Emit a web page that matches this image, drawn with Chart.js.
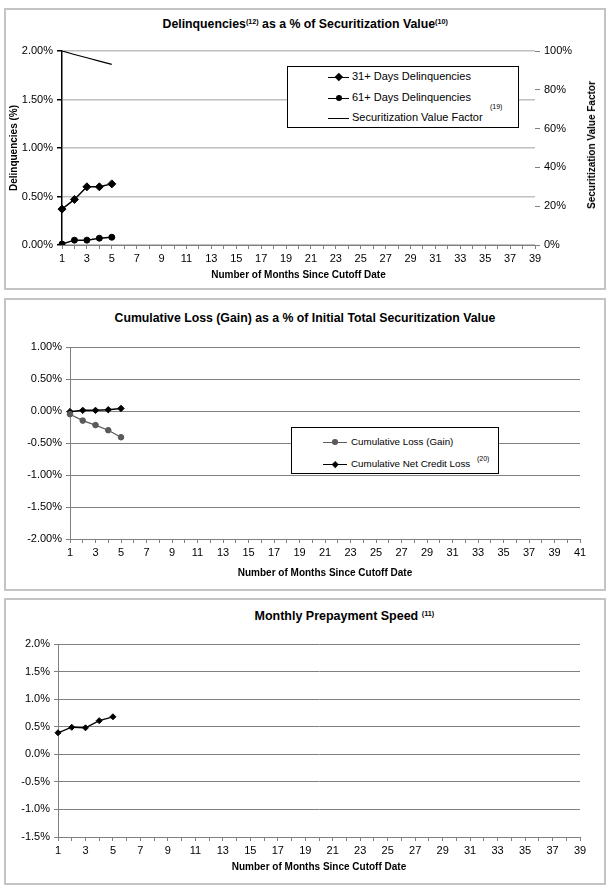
<!DOCTYPE html>
<html>
<head>
<meta charset="utf-8">
<script src="https://cdn.jsdelivr.net/npm/chart.js@4.4.1/dist/chart.umd.min.js"></script>
<style>
  body { margin: 0; background: #fff; width: 611px; height: 889px; position: relative; overflow: hidden;
         font-family: "Liberation Sans", Arial, sans-serif; color: #000; }
  .panel { position: absolute; left: 4px; width: 602px; box-sizing: border-box; border: 2px solid #c4c4c4; }
  .plot { position: absolute; left: 4px; }
  .title { position: absolute; width: 602px; text-align: center; font-weight: bold; font-size: 12px; line-height: 14px; white-space: nowrap; }
  .title span { display: inline-block; transform-origin: center; }
  .title sup { font-size: 7px; vertical-align: 4px; line-height: 0; }
  .vtitle { position: absolute; font-weight: bold; font-size: 10px; line-height: 12px; white-space: nowrap;
            transform: translate(-50%, -50%) rotate(-90deg); }
  .legend { position: absolute; border: 1px solid #000; background: #fff; box-sizing: border-box; }
  .entry { position: absolute; white-space: nowrap; }
  .swatch { position: absolute; height: 0; }
  .mark { position: absolute; }
  .note { position: absolute; font-size: 7px; white-space: nowrap; }
</style>
</head>
<body>

<div class="panel" style="top:8px;height:282px"></div>
<div class="panel" style="top:298px;height:293px"></div>
<div class="panel" style="top:598px;height:287px"></div>

<div class="title" id="t1" style="left:4px;top:17px"><span>Delinquencies<sup>(12)</sup> as a % of Securitization Value<sup>(10)</sup></span></div>
<div class="title" id="t2" style="left:4px;top:311px"><span>Cumulative Loss (Gain) as a % of Initial Total Securitization Value</span></div>
<div class="title" id="t3" style="left:43px;top:609px"><span>Monthly Prepayment Speed <sup>(11)</sup></span></div>

<canvas id="c1" class="plot" width="602" height="282" style="top:8px"></canvas>
<canvas id="c2" class="plot" width="602" height="293" style="top:298px"></canvas>
<canvas id="c3" class="plot" width="602" height="287" style="top:598px"></canvas>

<div class="vtitle" style="left:592px;top:145px">Securitization Value Factor</div>

<div class="legend" id="lg1" style="left:287px;top:66px;width:232px;height:62px"></div>
<div class="legend" id="lg2" style="left:291px;top:427px;width:208px;height:47px"></div>

<script>
// month labels
const monthsA = [1,2,3,4,5,6,7,8,9,10,11,12,13,14,15,16,17,18,19,20,21,22,23,24,25,26,27,28,29,30,31,32,33,34,35,36,37,38,39];
const monthsB = [1,2,3,4,5,6,7,8,9,10,11,12,13,14,15,16,17,18,19,20,21,22,23,24,25,26,27,28,29,30,31,32,33,34,35,36,37,38,39,40,41];

// delinquencies, % of securitization value
const days31 = [0.37, 0.47, 0.60, 0.60, 0.63];
const days61 = [0.01, 0.05, 0.05, 0.07, 0.08];
// securitization value factor, %
const svFactor = [100, 98.2, 96.5, 94.8, 93.1];

// cumulative loss, % of initial total securitization value
const cumLoss = [-0.05, -0.15, -0.22, -0.30, -0.41];
const cumNetCreditLoss = [-0.01, 0.01, 0.01, 0.02, 0.04];

// monthly prepayment speed, %
const prepaySpeed = [0.39, 0.49, 0.48, 0.61, 0.68];

// axis tick settings
const delinqTicks = { min: 0, max: 2, step: 0.5 };
const factorTicks = { min: 0, max: 100, step: 20 };
const lossTicks = { min: -2, max: 1, step: 0.5 };
const prepayTicks = { min: -1.5, max: 2, step: 0.5 };

Chart.defaults.font.family = '"Liberation Sans", Arial, sans-serif';
Chart.defaults.font.size = 11;
Chart.defaults.color = '#000';

const xTitle = 'Number of Months Since Cutoff Date';

function oddLabels(v, i) {
  return i % 2 === 0 ? this.getLabelForValue(v) : '';
}

function xScale(height, gridColor) {
  return {
    offset: false,
    grid: { drawOnChartArea: false, drawTicks: true, tickLength: 4, tickColor: gridColor },
    border: { color: gridColor, width: 1 },
    ticks: { autoSkip: false, maxRotation: 0, minRotation: 0, padding: 3, callback: oddLabels },
    title: { display: true, text: xTitle, font: { size: 10, weight: 'bold' }, padding: { top: 0, bottom: 4 } },
    afterFit: s => { s.height = height; }
  };
}

function baseOptions(padding) {
  return {
    responsive: false,
    animation: false,
    layout: { padding },
    plugins: { legend: { display: false }, title: { display: false }, tooltip: { enabled: false } },
    elements: { line: { tension: 0 } }
  };
}

// ---- chart 1: delinquencies ----
const opt1 = baseOptions({ top: 43, right: 4, bottom: 5, left: 0 });
opt1.scales = {
  x: xScale(40, '#808080'),
  y: {
    min: delinqTicks.min, max: delinqTicks.max,
    ticks: { stepSize: delinqTicks.step, padding: 4, callback: v => v.toFixed(2) + '%' },
    grid: { color: '#c0c0c0', lineWidth: 1.5, tickLength: 5, tickColor: '#000' },
    border: { color: '#000', width: 1.5 },
    title: { display: true, text: 'Delinquencies (%)', font: { size: 10, weight: 'bold' }, padding: { top: 4, bottom: 0 } },
    afterFit: s => { s.width = 58; }
  },
  y1: {
    position: 'right',
    min: factorTicks.min, max: factorTicks.max,
    ticks: { stepSize: factorTicks.step, padding: 4, callback: v => v + '%' },
    grid: { drawOnChartArea: false, tickLength: 5, tickColor: '#808080' },
    border: { display: false },
    afterFit: s => { s.width = 67; }
  }
};
const chart1 = new Chart(document.getElementById('c1'), {
  type: 'line',
  data: {
    labels: monthsA,
    datasets: [
      { label: '31+ Days Delinquencies', data: days31, yAxisID: 'y', borderColor: '#000', backgroundColor: '#000',
        borderWidth: 1.5, pointStyle: 'rectRot', pointRadius: 4, pointBorderWidth: 1 },
      { label: '61+ Days Delinquencies', data: days61, yAxisID: 'y', borderColor: '#000', backgroundColor: '#000',
        borderWidth: 1.5, pointStyle: 'circle', pointRadius: 3, pointBorderWidth: 1 },
      { label: 'Securitization Value Factor', data: svFactor, yAxisID: 'y1', borderColor: '#000', backgroundColor: '#000',
        borderWidth: 1.2, pointRadius: 0 }
    ]
  },
  options: opt1
});

// ---- chart 2: cumulative loss ----
const opt2 = baseOptions({ top: 49, right: 26, bottom: 8, left: 0 });
opt2.scales = {
  x: xScale(44, '#808080'),
  y: {
    min: lossTicks.min, max: lossTicks.max,
    ticks: { stepSize: lossTicks.step, padding: 4, callback: v => v.toFixed(2) + '%' },
    grid: { color: '#808080', lineWidth: 1, tickLength: 4, tickColor: '#808080' },
    border: { color: '#808080', width: 1 },
    afterFit: s => { s.width = 66; }
  }
};
const chart2 = new Chart(document.getElementById('c2'), {
  type: 'line',
  data: {
    labels: monthsB,
    datasets: [
      { label: 'Cumulative Loss (Gain)', data: cumLoss, borderColor: '#5a5a5a', backgroundColor: '#5a5a5a',
        borderWidth: 1.2, pointStyle: 'circle', pointRadius: 2.8, pointBorderWidth: 1 },
      { label: 'Cumulative Net Credit Loss', data: cumNetCreditLoss, borderColor: '#000', backgroundColor: '#000',
        borderWidth: 1.5, pointStyle: 'rectRot', pointRadius: 3.2, pointBorderWidth: 1 }
    ]
  },
  options: opt2
});

// ---- chart 3: prepayment speed ----
const opt3 = baseOptions({ top: 46, right: 26, bottom: 8, left: 0 });
opt3.scales = {
  x: xScale(40, '#808080'),
  y: {
    min: prepayTicks.min, max: prepayTicks.max,
    ticks: { stepSize: prepayTicks.step, padding: 4, callback: v => v.toFixed(1) + '%' },
    grid: { color: '#808080', lineWidth: 1, tickLength: 4, tickColor: '#808080' },
    border: { color: '#808080', width: 1 },
    afterFit: s => { s.width = 54; }
  }
};
const chart3 = new Chart(document.getElementById('c3'), {
  type: 'line',
  data: {
    labels: monthsA,
    datasets: [
      { label: 'Monthly Prepayment Speed', data: prepaySpeed, borderColor: '#000', backgroundColor: '#000',
        borderWidth: 1.3, pointStyle: 'rectRot', pointRadius: 3, pointBorderWidth: 1 }
    ]
  },
  options: opt3
});

// legends built from the chart datasets
function buildLegend(box, chart, cfg) {
  chart.data.datasets.forEach((ds, i) => {
    const cy = cfg.rows[i];
    const sw = document.createElement('div');
    sw.className = 'swatch';
    sw.style.left = cfg.swatchX + 'px';
    sw.style.width = cfg.swatchW + 'px';
    sw.style.top = (cy - 0.5) + 'px';
    sw.style.borderTop = ds.borderWidth + 'px solid ' + ds.borderColor;
    box.appendChild(sw);
    if (ds.pointRadius > 0) {
      const m = document.createElement('div');
      m.className = 'mark';
      const r = ds.pointRadius;
      const cx = cfg.swatchX + cfg.swatchW / 2;
      if (ds.pointStyle === 'rectRot') {
        const side = r * 1.41;
        m.style.width = side + 'px'; m.style.height = side + 'px';
        m.style.left = (cx - side / 2) + 'px'; m.style.top = (cy - side / 2) + 'px';
        m.style.transform = 'rotate(45deg)';
      } else {
        m.style.width = 2 * r + 'px'; m.style.height = 2 * r + 'px';
        m.style.left = (cx - r) + 'px'; m.style.top = (cy - r) + 'px';
        m.style.borderRadius = '50%';
      }
      m.style.background = ds.backgroundColor;
      box.appendChild(m);
    }
    const t = document.createElement('div');
    t.className = 'entry';
    t.style.left = cfg.textX + 'px';
    t.style.top = (cy - cfg.fontSize * 0.6) + 'px';
    t.style.fontSize = cfg.fontSize + 'px';
    t.style.lineHeight = (cfg.fontSize * 1.2) + 'px';
    t.textContent = ds.label;
    box.appendChild(t);
    if (cfg.notes[i]) {
      const n = document.createElement('div');
      n.className = 'note';
      n.textContent = cfg.notes[i];
      n.style.left = (cfg.textX + t.offsetWidth + cfg.noteGap) + 'px';
      n.style.top = (cy - cfg.noteRaise - 4) + 'px';
      box.appendChild(n);
    }
  });
}

buildLegend(document.getElementById('lg1'), chart1, {
  rows: [10, 31, 51], swatchX: 40, swatchW: 21, textX: 64, fontSize: 11,
  notes: ['', '', '(19)'], noteGap: 7, noteRaise: 11
});
buildLegend(document.getElementById('lg2'), chart2, {
  rows: [14, 36], swatchX: 31, swatchW: 24, textX: 59, fontSize: 9.8,
  notes: ['', '(20)'], noteGap: 7, noteRaise: 5
});

// squeeze the titles to the widths seen in the reference
function fitTitle(id, width) {
  const s = document.querySelector('#' + id + ' span');
  s.style.transform = 'scaleX(' + (width / s.offsetWidth) + ')';
}
fitTitle('t1', 285);
fitTitle('t2', 381);
fitTitle('t3', 180);
</script>
</body>
</html>
